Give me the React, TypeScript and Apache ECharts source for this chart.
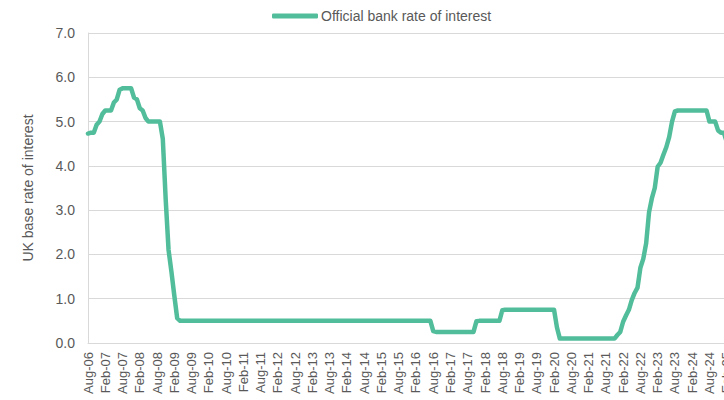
import React, { useEffect, useRef } from "react";
import * as echarts from "echarts";

// Month labels used for the category axis
const MONTHS = ["Jan", "Feb", "Mar", "Apr", "May", "Jun", "Jul", "Aug", "Sep", "Oct", "Nov", "Dec"];
const START_YEAR = 2006;
const START_MONTH = 7; // August

const SERIES_NAME = "Official bank rate of interest";
const Y_NAME = "UK base rate of interest";
const Y_TICKS = [0, 1, 2, 3, 4, 5, 6, 7];

// Monthly values (%)
const rate2006 = [4.73, 4.75, 4.75, 4.93, 5.0]; // Aug-Dec
const rate2007 = [5.17, 5.25, 5.25, 5.25, 5.43, 5.5, 5.72, 5.75, 5.75, 5.75, 5.75, 5.54];
const rate2008 = [5.5, 5.3, 5.25, 5.08, 5.0, 5.0, 5.0, 5.0, 5.0, 4.61, 3.25, 2.1];
const rate2009 = [1.61, 1.07, 0.56, 0.5, 0.5, 0.5, 0.5, 0.5, 0.5, 0.5, 0.5, 0.5];
const rate2010 = [0.5, 0.5, 0.5, 0.5, 0.5, 0.5, 0.5, 0.5, 0.5, 0.5, 0.5, 0.5];
const rate2011 = [0.5, 0.5, 0.5, 0.5, 0.5, 0.5, 0.5, 0.5, 0.5, 0.5, 0.5, 0.5];
const rate2012 = [0.5, 0.5, 0.5, 0.5, 0.5, 0.5, 0.5, 0.5, 0.5, 0.5, 0.5, 0.5];
const rate2013 = [0.5, 0.5, 0.5, 0.5, 0.5, 0.5, 0.5, 0.5, 0.5, 0.5, 0.5, 0.5];
const rate2014 = [0.5, 0.5, 0.5, 0.5, 0.5, 0.5, 0.5, 0.5, 0.5, 0.5, 0.5, 0.5];
const rate2015 = [0.5, 0.5, 0.5, 0.5, 0.5, 0.5, 0.5, 0.5, 0.5, 0.5, 0.5, 0.5];
const rate2016 = [0.5, 0.5, 0.5, 0.5, 0.5, 0.5, 0.5, 0.27, 0.25, 0.25, 0.25, 0.25];
const rate2017 = [0.25, 0.25, 0.25, 0.25, 0.25, 0.25, 0.25, 0.25, 0.25, 0.25, 0.49, 0.5];
const rate2018 = [0.5, 0.5, 0.5, 0.5, 0.5, 0.5, 0.5, 0.74, 0.75, 0.75, 0.75, 0.75];
const rate2019 = [0.75, 0.75, 0.75, 0.75, 0.75, 0.75, 0.75, 0.75, 0.75, 0.75, 0.75, 0.75];
const rate2020 = [0.75, 0.75, 0.35, 0.1, 0.1, 0.1, 0.1, 0.1, 0.1, 0.1, 0.1, 0.1];
const rate2021 = [0.1, 0.1, 0.1, 0.1, 0.1, 0.1, 0.1, 0.1, 0.1, 0.1, 0.1, 0.18];
const rate2022 = [0.25, 0.48, 0.62, 0.75, 0.97, 1.13, 1.25, 1.7, 1.9, 2.25, 2.95, 3.27];
const rate2023 = [3.5, 3.98, 4.07, 4.25, 4.42, 4.65, 5.0, 5.23, 5.25, 5.25, 5.25, 5.25];
const rate2024 = [5.25, 5.25, 5.25, 5.25, 5.25, 5.25, 5.25, 5.0, 5.0, 5.0, 4.8, 4.75];
const rate2025 = [4.75, 4.54]; // Jan-Feb

const values = [
  ...rate2006, ...rate2007, ...rate2008, ...rate2009, ...rate2010, ...rate2011,
  ...rate2012, ...rate2013, ...rate2014, ...rate2015, ...rate2016, ...rate2017,
  ...rate2018, ...rate2019, ...rate2020, ...rate2021, ...rate2022, ...rate2023,
  ...rate2024, ...rate2025,
];

const categories = values.map((_, i) => {
  const m = (START_MONTH + i) % 12;
  const y = START_YEAR + Math.floor((START_MONTH + i) / 12);
  return `${MONTHS[m]}-${String(y % 100).padStart(2, "0")}`;
});

const FONT = "'Liberation Sans', Arial, sans-serif";
const TEXT = "#595959";
const GRID = "#d9d9d9";
const LINE = "#52bd9a";

const CHART_W = 740;

export default function App() {
  const ref = useRef<HTMLDivElement>(null);

  useEffect(() => {
    if (!ref.current) return;
    const chart = echarts.init(ref.current, undefined, { renderer: "svg" });
    chart.setOption({
      animation: false,
      backgroundColor: "#ffffff",
      textStyle: { fontFamily: FONT },
      legend: {
        data: [SERIES_NAME],
        left: 272,
        top: 9,
        padding: 0,
        icon: "roundRect",
        itemWidth: 46,
        itemHeight: 5,
        itemGap: 3,
        textStyle: { fontSize: 14, color: TEXT, fontFamily: FONT, padding: [0, 0, 0, -2] },
      },
      grid: {
        left: 88,
        top: 33,
        right: CHART_W - 726.7,
        bottom: 57,
        containLabel: false,
        outerBoundsMode: "none",
      },
      xAxis: {
        type: "category",
        data: categories,
        boundaryGap: false,
        axisLine: { show: true, lineStyle: { color: GRID, width: 1 } },
        axisTick: { show: false },
        axisLabel: {
          interval: 5,
          rotate: 90,
          fontSize: 13,
          color: TEXT,
          margin: 9,
          fontFamily: FONT,
        },
        splitLine: { show: false },
      },
      yAxis: {
        type: "value",
        min: Y_TICKS[0],
        max: Y_TICKS[Y_TICKS.length - 1],
        interval: 1,
        name: Y_NAME,
        nameLocation: "middle",
        nameGap: 53,
        nameRotate: 90,
        nameTextStyle: { fontSize: 14, color: TEXT, fontFamily: FONT },
        axisLine: { show: true, lineStyle: { color: GRID, width: 1 } },
        axisTick: { show: false },
        axisLabel: {
          fontSize: 14,
          color: TEXT,
          margin: 13,
          fontFamily: FONT,
          formatter: (v: number) => v.toFixed(1),
        },
        splitLine: { show: true, lineStyle: { color: GRID, width: 1 } },
      },
      series: [
        {
          name: SERIES_NAME,
          type: "line",
          data: values,
          symbol: "none",
          showSymbol: false,
          smooth: false,
          itemStyle: { color: LINE },
          lineStyle: { color: LINE, width: 4.5, join: "round", cap: "round" },
        },
      ],
    });
    return () => chart.dispose();
  }, []);

  return (
    <div
      style={{
        position: "fixed",
        left: 0,
        top: 0,
        width: 724,
        height: 400,
        overflow: "hidden",
        background: "#ffffff",
      }}
    >
      <div ref={ref} style={{ width: CHART_W, height: 400 }} />
    </div>
  );
}
